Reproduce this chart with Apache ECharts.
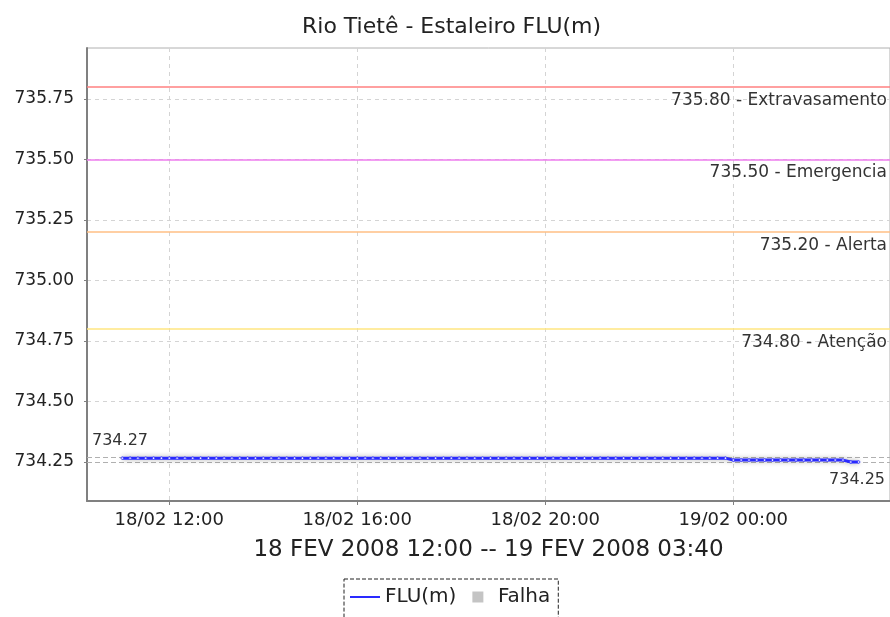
<!DOCTYPE html>
<html>
<head>
<meta charset="utf-8">
<title>Rio Tietê - Estaleiro FLU(m)</title>
<script src="https://cdn.jsdelivr.net/npm/echarts@6/dist/echarts.min.js"></script>
<style>
  html, body { margin: 0; padding: 0; background: #fff; }
  #chart { width: 890px; height: 617px; }
</style>
</head>
<body>
<div id="chart"></div>
<script>
// leituras a cada 10 min, a partir de 18/02/2008 11:00
const startTime = new Date(2008, 1, 18, 11, 0).getTime();
const stepMs = 10 * 60 * 1000;

// nivel FLU(m)
const fluValues = [
  734.266, 734.266, 734.266, 734.266, 734.266, 734.266, // 11h
  734.266, 734.266, 734.266, 734.266, 734.266, 734.266, // 12h
  734.266, 734.266, 734.266, 734.266, 734.266, 734.266, // 13h
  734.266, 734.266, 734.266, 734.266, 734.266, 734.266, // 14h
  734.266, 734.266, 734.266, 734.266, 734.266, 734.266, // 15h
  734.266, 734.266, 734.266, 734.266, 734.266, 734.266, // 16h
  734.266, 734.266, 734.266, 734.266, 734.266, 734.266, // 17h
  734.266, 734.266, 734.266, 734.266, 734.266, 734.266, // 18h
  734.266, 734.266, 734.266, 734.266, 734.266, 734.266, // 19h
  734.266, 734.266, 734.266, 734.266, 734.266, 734.266, // 20h
  734.266, 734.266, 734.266, 734.266, 734.266, 734.266, // 21h
  734.266, 734.266, 734.266, 734.266, 734.266, 734.266, // 22h
  734.266, 734.266, 734.266, 734.266, 734.266, 734.266, // 23h
  734.258, 734.258, 734.258, 734.258, 734.258, 734.258, // 00h
  734.258, 734.258, 734.258, 734.258, 734.258, 734.258, // 01h
  734.258, 734.258, 734.258, 734.25, 734.25             // 02h
];

// cotas de referencia
const limitValues = [735.80, 735.50, 735.20, 734.80];
const limitNames = ['Extravasamento', 'Emergencia', 'Alerta', 'Atenção'];
const limitColors = ['#ff8080', '#ee7cee', '#ffbf85', '#ffe680'];

// maximo e minimo do periodo
const maxValue = 734.266;
const minValue = 734.25;

// eixos
const yTicks = [734.25, 734.50, 734.75, 735.00, 735.25, 735.50, 735.75];
const yMin = 734.089;
const yMax = 735.96;
const xTicks = ['2008-02-18 12:00', '2008-02-18 16:00', '2008-02-18 20:00', '2008-02-19 00:00'];
const xMin = new Date(2008, 1, 18, 10, 15).getTime();
const xMax = new Date(2008, 1, 19, 3, 20).getTime();
const periodText = '18 FEV 2008 12:00 -- 19 FEV 2008 03:40';

function pad(n) {
  return (n < 10 ? '0' : '') + n;
}

function parseTime(s) {
  let p = s.split(/[- :]/).map(Number);
  return new Date(p[0], p[1] - 1, p[2], p[3], p[4]).getTime();
}

let fluData = fluValues.map((v, i) => [startTime + i * stepMs, v]);

let limitLines = limitValues.map((v, i) => ({
  yAxis: v,
  lineStyle: {color: limitColors[i], type: 'solid', width: 1.5},
  label: {
    position: 'insideEndBottom',
    formatter: v.toFixed(2) + ' - ' + limitNames[i],
    fontSize: 17,
    distance: [3, 5]
  }
}));

let chartDom = document.getElementById('chart');
let myChart = echarts.init(chartDom);

let option = {
  animation: false,
  backgroundColor: '#fff',
  title: {
    text: 'Rio Tietê - Estaleiro FLU(m)',
    left: 297,
    top: 11,
    textStyle: {
      fontFamily: 'DejaVu Sans',
      fontSize: 22,
      fontWeight: 'normal',
      color: '#222'
    }
  },
  grid: {
    left: 87,
    right: -1,
    top: 48,
    bottom: 116,
    show: true,
    borderColor: '#b0b0b0',
    borderWidth: 1
  },
  legend: {
    left: 344,
    top: 579,
    padding: [8, 8, 14, 5],
    itemGap: 16,
    itemWidth: 30,
    itemHeight: 11,
    borderColor: '#222',
    borderWidth: 1,
    borderType: 'dashed',
    textStyle: {fontFamily: 'DejaVu Sans', fontSize: 20, color: '#222'},
    data: [
      {name: 'FLU(m)', itemStyle: {opacity: 0}},
      {name: 'Falha', icon: 'path://M0,0H10V10H0Z'}
    ]
  },
  xAxis: {
    type: 'value',
    min: xMin,
    max: xMax,
    name: periodText,
    nameLocation: 'middle',
    nameGap: 38,
    nameTextStyle: {fontFamily: 'DejaVu Sans', fontSize: 23, color: '#222'},
    axisLine: {lineStyle: {color: '#808080', width: 2}},
    axisTick: {
      show: true,
      length: 4,
      customValues: xTicks.map(parseTime),
      lineStyle: {color: '#808080'}
    },
    axisLabel: {
      customValues: xTicks.map(parseTime),
      margin: 10,
      fontFamily: 'DejaVu Sans',
      fontSize: 18,
      color: '#222',
      formatter: function (val) {
        let d = new Date(val);
        return pad(d.getDate()) + '/' + pad(d.getMonth() + 1) + ' ' +
          pad(d.getHours()) + ':' + pad(d.getMinutes());
      }
    },
    splitLine: {
      show: true,
      lineStyle: {color: '#d4d4d4', type: [4, 4]}
    }
  },
  yAxis: {
    type: 'value',
    min: yMin,
    max: yMax,
    axisLine: {show: true, lineStyle: {color: '#808080', width: 2}},
    axisTick: {
      show: true,
      length: 3,
      customValues: yTicks,
      lineStyle: {color: '#808080'}
    },
    axisLabel: {
      customValues: yTicks,
      margin: 13,
      fontFamily: 'DejaVu Sans',
      fontSize: 17,
      color: '#222',
      formatter: v => v.toFixed(2)
    },
    splitLine: {
      show: true,
      lineStyle: {color: '#d4d4d4', type: [4, 4]}
    }
  },
  series: [
    {
      name: 'FLU(m)',
      type: 'line',
      data: fluData,
      symbol: 'circle',
      symbolSize: 2.5,
      showAllSymbol: true,
      z: 5,
      itemStyle: {color: '#fff', borderColor: '#2a2aff', borderWidth: 0.8},
      lineStyle: {
        color: '#2a2aff',
        width: 3,
        shadowColor: 'rgba(0, 0, 0, 0.35)',
        shadowBlur: 5
      },
      markLine: {
        silent: true,
        symbol: 'none',
        z: 2,
        label: {fontFamily: 'DejaVu Sans', fontSize: 16, color: '#333'},
        data: limitLines.concat([
          {
            yAxis: maxValue,
            lineStyle: {color: '#b0b0b0', type: [5, 3], width: 1},
            label: {
              position: 'insideStartTop',
              formatter: maxValue.toFixed(2),
              distance: [5, 8]
            }
          },
          {
            yAxis: minValue,
            lineStyle: {color: '#b0b0b0', type: [5, 3], width: 1},
            label: {
              position: 'insideEndBottom',
              formatter: minValue.toFixed(2),
              distance: [5, 10]
            }
          }
        ])
      }
    },
    {
      name: 'Falha',
      type: 'line',
      data: [],
      symbolKeepAspect: true,
      itemStyle: {color: '#c4c4c4'},
      lineStyle: {color: '#c4c4c4'}
    }
  ]
};

option && myChart.setOption(option);
</script>
</body>
</html>
